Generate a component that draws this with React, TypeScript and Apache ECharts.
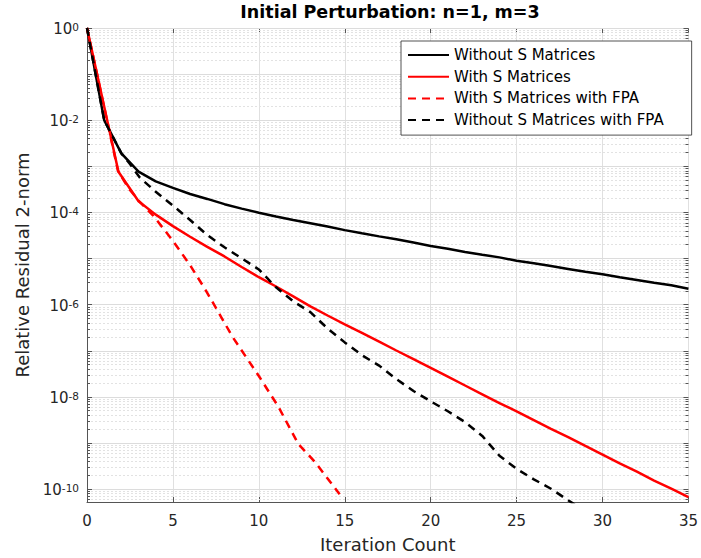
import React, { useEffect, useRef } from "react";
import * as echarts from "echarts";

// ---- data ----
const X_WITHOUT_S = [0, 1, 2, 3, 4, 5, 6, 7, 8, 9, 10, 11, 12, 13, 14, 15, 16, 17, 18, 19, 20, 21, 22, 23, 24, 25, 26, 27, 28, 29, 30, 31, 32, 33, 34, 35];
const Y_WITHOUT_S = [1, 1.0e-2, 1.9e-3, 7.6e-4, 4.7e-4, 3.4e-4, 2.5e-4, 1.95e-4, 1.5e-4, 1.2e-4, 9.8e-5, 8.1e-5, 6.8e-5, 5.8e-5, 4.9e-5, 4.1e-5, 3.5e-5, 3.0e-5, 2.6e-5, 2.2e-5, 1.86e-5, 1.62e-5, 1.38e-5, 1.2e-5, 1.05e-5, 8.9e-6, 7.8e-6, 6.8e-6, 5.9e-6, 5.1e-6, 4.5e-6, 3.9e-6, 3.4e-6, 2.95e-6, 2.6e-6, 2.2e-6];

const X_WITH_S = [0, 1.83, 3, 4, 5, 6, 7, 8, 9, 10, 11, 12, 13, 14, 15, 16, 17, 18, 19, 20, 21, 22, 23, 24, 25, 26, 27, 28, 29, 30, 31, 32, 33, 34, 35];
const Y_WITH_S = [1, 7.6e-4, 1.74e-4, 8.9e-5, 5.0e-5, 2.95e-5, 1.78e-5, 1.1e-5, 6.5e-6, 3.9e-6, 2.45e-6, 1.5e-6, 9.1e-7, 5.75e-7, 3.7e-7, 2.4e-7, 1.55e-7, 1.0e-7, 6.5e-8, 4.2e-8, 2.7e-8, 1.74e-8, 1.12e-8, 7.2e-9, 4.8e-9, 3.1e-9, 2.0e-9, 1.32e-9, 8.5e-10, 5.5e-10, 3.55e-10, 2.35e-10, 1.5e-10, 1.0e-10, 6.6e-11];

const X_WITH_S_FPA = [0, 1.8, 2.4, 3, 3.85, 5, 6, 6.92, 8, 8.46, 10, 11.15, 12.3, 13.27, 14.7];
const Y_WITH_S_FPA = [1, 8.0e-4, 3.4e-4, 1.8e-4, 8.5e-5, 2.4e-5, 7.1e-6, 2.0e-6, 4.0e-7, 2.0e-7, 2.8e-8, 5.9e-9, 9.3e-10, 3.8e-10, 7.6e-11];

const X_WITHOUT_S_FPA = [0, 1, 2, 2.5, 3.08, 4, 5, 6, 7, 8, 9, 10, 11, 12, 13, 14, 15, 16, 17, 18, 19, 20, 21, 22, 23, 24, 25, 26, 27, 28, 29];
const Y_WITHOUT_S_FPA = [1, 1.0e-2, 1.9e-3, 1.12e-3, 5.6e-4, 2.8e-4, 1.4e-4, 6.8e-5, 3.2e-5, 1.74e-5, 1.0e-5, 5.75e-6, 2.35e-6, 1.17e-6, 6.8e-7, 3.0e-7, 1.5e-7, 7.9e-8, 4.7e-8, 2.4e-8, 1.32e-8, 7.9e-9, 4.8e-9, 2.8e-9, 1.4e-9, 5.2e-10, 2.7e-10, 1.6e-10, 1.0e-10, 5.6e-11, 3.2e-11];

const SERIES_NAMES = ["Without S Matrices", "With S Matrices", "With S Matrices with FPA", "Without S Matrices with FPA"];

const X_MIN = 0;
const X_MAX = 35;
const X_INTERVAL = 5;
const Y_MIN = 5.15e-11;
const Y_MAX = 1;

const TITLE = "Initial Perturbation: n=1, m=3";
const X_NAME = "Iteration Count";
const Y_NAME = "Relative Residual 2-norm";

// log-axis tick exponents: major ticks at every decade, labels at even ones
const MAJOR_EXPONENTS = [0, -1, -2, -3, -4, -5, -6, -7, -8, -9, -10];
const LABELED_EXPONENTS = [0, -2, -4, -6, -8, -10];
// minor log grid positions (2..9 x 10^k)
const MINOR_MULT = [2, 3, 4, 5, 6, 7, 8, 9];
const DECADES = [-11, -10, -9, -8, -7, -6, -5, -4, -3, -2, -1];

const FONT = "DejaVu Sans";
const AXIS_COLOR = "#555";
const TEXT_COLOR = "#262626";

function zip(xs: number[], ys: number[]) {
  return xs.map((x, i) => [x, ys[i]]);
}

export default function App() {
  const ref = useRef<HTMLDivElement>(null);

  useEffect(() => {
    if (!ref.current) return;
    const chart = echarts.init(ref.current, undefined, { renderer: "svg" });

    const minor: number[][] = [];
    DECADES.forEach((d) => {
      MINOR_MULT.forEach((m) => {
        const v = m * Math.pow(10, d);
        if (v > Y_MIN && v < Y_MAX) minor.push([X_MIN, v]);
      });
    });
    const major = MAJOR_EXPONENTS.map((e) => [X_MIN, Math.pow(10, e), e]);

    const lineBase = { type: "line" as const, symbol: "none", showSymbol: false, clip: true, z: 3 };

    chart.setOption({
      animation: false,
      backgroundColor: "#fff",
      grid: { left: 87, right: 8, top: 28, bottom: 55, containLabel: false },
      graphic: [
        {
          type: "text",
          x: 390,
          y: 12,
          z: 10,
          style: {
            text: TITLE,
            fontSize: 17.5,
            fontWeight: "bold",
            fontFamily: FONT,
            fill: "#000",
            align: "center",
            textAlign: "center",
            verticalAlign: "middle",
            textVerticalAlign: "middle",
          },
        },
      ],
      legend: {
        orient: "vertical",
        left: 401,
        top: 41,
        itemWidth: 41,
        itemHeight: 16,
        itemGap: 5.7,
        padding: [6, 28, 7, 6],
        backgroundColor: "#fff",
        borderColor: "#262626",
        borderWidth: 0.8,
        selectedMode: false,
        itemStyle: { opacity: 0 },
        textStyle: { fontFamily: FONT, fontSize: 15, color: "#000", lineHeight: 16 },
        data: SERIES_NAMES,
      },
      xAxis: [
        {
          type: "value",
          min: X_MIN,
          max: X_MAX,
          interval: X_INTERVAL,
          name: X_NAME,
          nameLocation: "middle",
          nameGap: 33,
          nameTextStyle: { fontFamily: FONT, fontSize: 18, color: TEXT_COLOR },
          axisLine: { show: true, lineStyle: { color: AXIS_COLOR, width: 1 } },
          axisTick: { show: true, inside: true, length: 5, lineStyle: { color: AXIS_COLOR } },
          axisLabel: { fontFamily: FONT, fontSize: 15, color: TEXT_COLOR, margin: 11 },
          splitLine: { show: true, lineStyle: { color: "#e0e0e0", width: 1 } },
        },
        {
          type: "value",
          position: "top",
          min: X_MIN,
          max: X_MAX,
          interval: X_INTERVAL,
          axisLine: { show: true, lineStyle: { color: AXIS_COLOR, width: 1 } },
          axisTick: { show: true, inside: true, length: 5, lineStyle: { color: AXIS_COLOR } },
          axisLabel: { show: false },
          splitLine: { show: false },
        },
      ],
      yAxis: [
        {
          type: "log",
          logBase: 10,
          min: Y_MIN,
          max: Y_MAX,
          name: Y_NAME,
          nameLocation: "middle",
          nameGap: 56,
          nameTextStyle: { fontFamily: FONT, fontSize: 18, color: TEXT_COLOR },
          axisLine: { show: true, lineStyle: { color: AXIS_COLOR, width: 1 } },
          axisTick: { show: false },
          axisLabel: { show: false },
          splitLine: { show: false },
        },
        {
          type: "log",
          logBase: 10,
          position: "right",
          min: Y_MIN,
          max: Y_MAX,
          axisLine: { show: true, lineStyle: { color: AXIS_COLOR, width: 1 } },
          axisTick: { show: false },
          axisLabel: { show: false },
          splitLine: { show: false },
        },
      ],
      series: [
        {
          type: "custom",
          name: "minor",
          silent: true,
          z: 1,
          xAxisIndex: 0,
          yAxisIndex: 0,
          data: minor,
          renderItem: (_params: any, api: any) => {
            const v = api.value(1);
            const p0 = api.coord([X_MIN, v]);
            const p1 = api.coord([X_MAX, v]);
            const y = Math.round(p0[1]) + 0.5;
            return {
              type: "group",
              children: [
                {
                  type: "line",
                  shape: { x1: p0[0], y1: y, x2: p1[0], y2: y },
                  style: { stroke: "#e2e2e2", lineWidth: 1, lineDash: [2, 2] },
                },
                {
                  type: "line",
                  shape: { x1: p0[0], y1: y, x2: p0[0] + 3, y2: y },
                  style: { stroke: AXIS_COLOR, lineWidth: 1 },
                },
                {
                  type: "line",
                  shape: { x1: p1[0] - 3, y1: y, x2: p1[0], y2: y },
                  style: { stroke: AXIS_COLOR, lineWidth: 1 },
                },
              ],
            };
          },
        },
        {
          type: "custom",
          name: "major",
          silent: true,
          z: 2,
          xAxisIndex: 0,
          yAxisIndex: 0,
          data: major,
          clip: false,
          renderItem: (_params: any, api: any) => {
            const v = api.value(1);
            const e = api.value(2);
            const p0 = api.coord([X_MIN, v]);
            const p1 = api.coord([X_MAX, v]);
            const y = Math.round(p0[1]) + 0.5;
            const children: any[] = [
              {
                type: "line",
                shape: { x1: p0[0], y1: y, x2: p1[0], y2: y },
                style: { stroke: "#dcdcdc", lineWidth: 1 },
              },
              {
                type: "line",
                shape: { x1: p0[0], y1: y, x2: p0[0] + 5, y2: y },
                style: { stroke: AXIS_COLOR, lineWidth: 1 },
              },
              {
                type: "line",
                shape: { x1: p1[0] - 5, y1: y, x2: p1[0], y2: y },
                style: { stroke: AXIS_COLOR, lineWidth: 1 },
              },
            ];
            if (LABELED_EXPONENTS.indexOf(e) >= 0) {
              children.push({
                type: "text",
                x: p0[0] - 8,
                y: p0[1] + 1.2,
                style: {
                  text: `{b|10}{s|${e}}`,
                  align: "right",
                  verticalAlign: "middle",
                  rich: {
                    b: { fontFamily: FONT, fontSize: 15, fill: TEXT_COLOR, lineHeight: 15, verticalAlign: "bottom" },
                    s: { fontFamily: FONT, fontSize: 10.5, fill: TEXT_COLOR, lineHeight: 11, padding: [0, 0, 9, 0], verticalAlign: "top" },
                  },
                },
              });
            }
            return { type: "group", children };
          },
        },
        {
          ...lineBase,
          name: SERIES_NAMES[0],
          data: zip(X_WITHOUT_S, Y_WITHOUT_S),
          lineStyle: { color: "#000", width: 2.5, type: "solid" },
          itemStyle: { color: "#000" },
        },
        {
          ...lineBase,
          name: SERIES_NAMES[1],
          data: zip(X_WITH_S, Y_WITH_S),
          lineStyle: { color: "#ff0000", width: 2.5, type: "solid" },
          itemStyle: { color: "#ff0000" },
        },
        {
          ...lineBase,
          name: SERIES_NAMES[2],
          data: zip(X_WITH_S_FPA, Y_WITH_S_FPA),
          lineStyle: { color: "#ff0000", width: 2.5, type: [8, 6] },
          itemStyle: { color: "#ff0000" },
        },
        {
          ...lineBase,
          name: SERIES_NAMES[3],
          data: zip(X_WITHOUT_S_FPA, Y_WITHOUT_S_FPA),
          lineStyle: { color: "#000", width: 2.5, type: [8, 6] },
          itemStyle: { color: "#000" },
        },
      ],
    });

    return () => chart.dispose();
  }, []);

  return (
    <div
      ref={ref}
      style={{ position: "fixed", left: 0, top: 0, width: 701, height: 558, background: "#fff" }}
    />
  );
}
